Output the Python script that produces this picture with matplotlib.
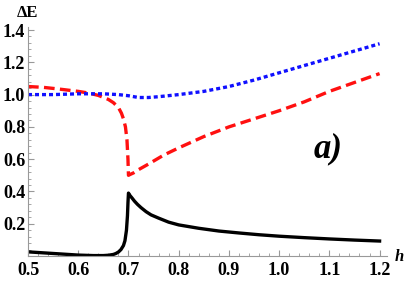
import numpy as np
import matplotlib
matplotlib.use('Agg')
import matplotlib.pyplot as plt
from matplotlib.ticker import MultipleLocator

# values
h_black = [0.50, 0.52, 0.55, 0.58, 0.60, 0.63, 0.65, 0.66, 0.67, 0.675, 0.68, 0.685,
           0.69, 0.693, 0.696, 0.698, 0.699, 0.700, 0.703, 0.707, 0.712, 0.718, 0.725,
           0.735, 0.745, 0.76, 0.78, 0.80, 0.84, 0.88, 0.92, 0.96, 1.00, 1.05, 1.10,
           1.15, 1.20]
e_black = [0.026, 0.022, 0.016, 0.010, 0.006, 0.003, 0.003, 0.005, 0.010, 0.016, 0.025, 0.040,
           0.065, 0.095, 0.16, 0.25, 0.33, 0.39, 0.375, 0.36, 0.34, 0.32, 0.30,
           0.275, 0.255, 0.235, 0.21, 0.193, 0.172, 0.155, 0.143, 0.132, 0.123, 0.114, 0.106,
           0.099, 0.093]

h_red = [0.50, 0.53, 0.56, 0.60, 0.62, 0.64, 0.66, 0.67, 0.68, 0.686, 0.69, 0.694,
         0.697, 0.699, 0.700, 0.703, 0.71, 0.72, 0.74, 0.77, 0.80, 0.85, 0.90, 0.95,
         1.00, 1.05, 1.10, 1.15, 1.20]
e_red = [1.05, 1.045, 1.035, 1.02, 1.01, 0.995, 0.97, 0.95, 0.92, 0.885, 0.85, 0.80,
         0.72, 0.60, 0.50, 0.505, 0.515, 0.535, 0.57, 0.625, 0.67, 0.74, 0.80, 0.85,
         0.90, 0.955, 1.02, 1.075, 1.13]

h_blue = [0.50, 0.55, 0.60, 0.65, 0.68, 0.70, 0.72, 0.74, 0.76, 0.80, 0.85, 0.90,
          0.95, 1.00, 1.05, 1.10, 1.15, 1.20]
e_blue = [1.00, 1.00, 1.005, 1.005, 1.0, 0.993, 0.982, 0.982, 0.987, 1.0, 1.02, 1.05,
          1.09, 1.135, 1.18, 1.225, 1.27, 1.315]

x_ticks = [0.5, 0.6, 0.7, 0.8, 0.9, 1.0, 1.1, 1.2]
y_ticks = [0.2, 0.4, 0.6, 0.8, 1.0, 1.2, 1.4]

plt.rcParams['font.family'] = ['Liberation Serif', 'DejaVu Serif']
plt.rcParams['font.weight'] = 'bold'

fig = plt.figure(figsize=(4.09, 2.82), dpi=100)
ax = fig.add_axes([0.0685, 0.092, 0.878, 0.813])

ax.plot(h_black, e_black, color='black', lw=2.4, solid_joinstyle='round')
ax.plot(h_red, e_red, color='#ff1010', lw=2.4, ls=(0, (3.2, 1.6)))
ax.plot(h_blue, e_blue, color='#1010ff', lw=2.4, ls=(0, (1.2, 0.9)))

ax.set_xlim(0.5, 1.215)
ax.set_ylim(0, 1.42)
ax.set_xticks(x_ticks)
ax.set_yticks(y_ticks)
ax.set_xticklabels(['%.1f' % v for v in x_ticks], fontsize=13, fontweight='bold')
ax.set_yticklabels(['%.1f' % v for v in y_ticks], fontsize=13, fontweight='bold')
ax.xaxis.set_minor_locator(MultipleLocator(0.02))
ax.yaxis.set_minor_locator(MultipleLocator(0.04))

for s in ['top', 'right']:
    ax.spines[s].set_visible(False)
for s in ['left', 'bottom']:
    ax.spines[s].set_color('#999999')
    ax.spines[s].set_linewidth(0.8)
ax.tick_params(which='major', direction='in', length=4, color='#999999', width=0.8, pad=2)
ax.tick_params(which='minor', direction='in', length=2, color='#999999', width=0.6)
ax.tick_params(axis='x', pad=4)

fig.text(0.068, 0.955, 'ΔE', fontsize=12, fontweight='bold', ha='center', va='center')
fig.text(0.977, 0.088, 'h', fontsize=12, fontweight='bold', style='italic', ha='center', va='center')
ax.text(1.097, 0.665, 'a)', fontsize=25, fontweight='bold', style='italic', ha='center', va='center')

fig.savefig('out.png', dpi=100)
